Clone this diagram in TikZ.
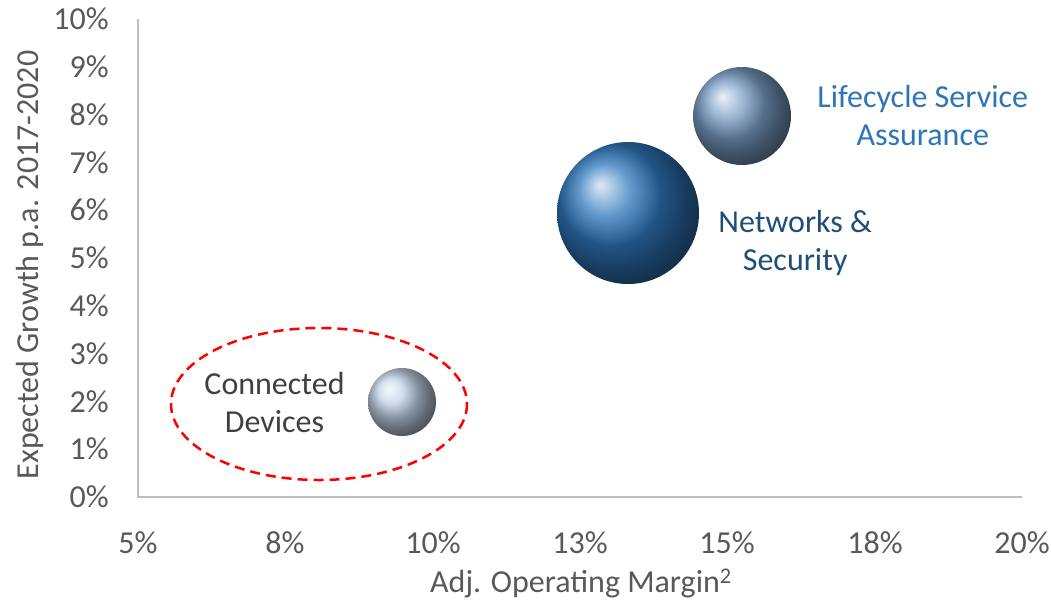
\documentclass[tikz,border=0pt]{standalone}
\usepackage{fontspec}
\setmainfont{Carlito}
\usetikzlibrary{positioning}
\definecolor{axisgray}{HTML}{BFBFBF}
\definecolor{labelgray}{HTML}{595959}
\definecolor{darkgray}{HTML}{404040}
\definecolor{lsablue}{HTML}{2E75B6}
\definecolor{nsblue}{HTML}{1F4E79}
\definecolor{lsaball}{HTML}{7A9FC6}
\definecolor{nsball}{HTML}{2F78BE}
\definecolor{cdball}{HTML}{C2D2E6}
\begin{document}
\begin{tikzpicture}[x=1pt,y=-1pt,
    txt/.style={font=\fontsize{32}{38}\selectfont},
    ticklabel/.style={txt,text=labelgray,inner sep=0pt},
    bubble/.style={circle,inner sep=0pt,shading=ball},
    bubblelabel/.style={txt,align=center,inner sep=0pt}]
    \useasboundingbox (0,0) rectangle (1051,603);

    % axes
    \coordinate (origin) at (138,497);
    \coordinate (xend) at (1022,497);
    \coordinate (yend) at (138,19);
    \draw[axisgray,line width=1.5pt] (yend) -- (origin) -- (xend);

    \foreach \v in {0,...,10} {
      \node[ticklabel,anchor=east] (ytick\v) at (109,497-47.8*\v) {\v\%};
    }
    \foreach \x/\t in {138/5,285/8,433/10,580/13,727/15,875/18,1022/20} {
      \node[ticklabel] (xtick\t) at (\x,543) {\t\%};
    }
    \node[ticklabel,rotate=90] (ytitle) at (30,265) {Expected Growth p.a. 2017-2020};
    \node[ticklabel] (xtitle) at (581,583) {Adj. Operating Margin\textsuperscript{2}};

    % bubbles
    \node[bubble,minimum size=98pt,ball color=lsaball] (lsa) at (742,116) {};
    \node[bubble,minimum size=142pt,ball color=nsball] (ns) at (628,213) {};
    \node[bubble,minimum size=68pt,ball color=cdball] (cd) at (402,402) {};

    \node[bubblelabel,text=lsablue,right=26pt of lsa] (lsalabel) {Lifecycle Service\\Assurance};
    \node[bubblelabel,text=nsblue,right=19pt of ns,yshift=-30pt] (nslabel) {Networks \&\\Security};
    \node[bubblelabel,text=darkgray,left=23pt of cd] (cdlabel) {Connected\\Devices};

    \draw[red,line width=2.5pt,dash pattern=on 10pt off 6pt] (319,404) ellipse [x radius=148,y radius=76];
  \end{tikzpicture}
\end{document}
